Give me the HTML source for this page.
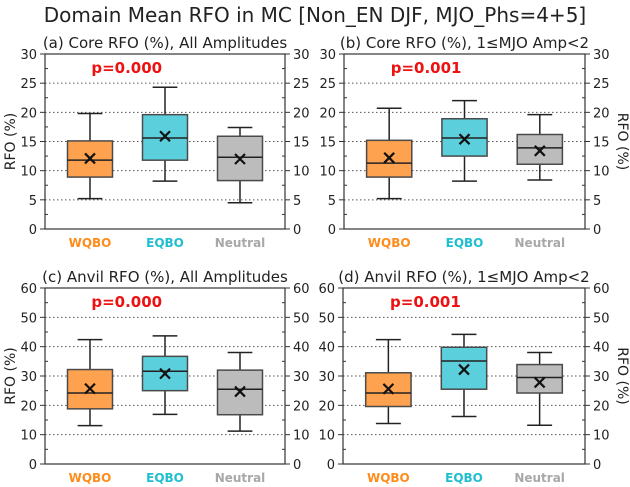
<!DOCTYPE html>
<html><head><meta charset="utf-8"><style>
html,body{margin:0;padding:0;background:#fff;}
svg{display:block;font-family:"DejaVu Sans","Liberation Sans",sans-serif;}
</style></head><body>
<svg id="fig" width="630" height="487" viewBox="0 0 630 487" xmlns="http://www.w3.org/2000/svg">
<text x="315" y="22" font-size="20" text-anchor="middle" fill="#222">Domain Mean RFO in MC [Non_EN DJF, MJO_Phs=4+5]</text>
</svg>
<script>
const categories = ["WQBO","EQBO","Neutral"];
const panelTitles = ["(a) Core RFO (%), All Amplitudes","(b) Core RFO (%), 1≤MJO Amp<2","(c) Anvil RFO (%), All Amplitudes","(d) Anvil RFO (%), 1≤MJO Amp<2"];
const pValues = ["p=0.000","p=0.001","p=0.000","p=0.001"];
const topTicks = [0,5,10,15,20,25,30];
const botTicks = [0,10,20,30,40,50,60];
// each: [whiskerLow, q1, median, q3, whiskerHigh, mean]
const panelA = [[5.2,8.9,11.8,15.1,19.8,12.1],[8.2,11.8,15.6,19.6,24.3,15.9],[4.5,8.3,12.3,15.9,17.4,12.0]];
const panelB = [[5.2,8.9,11.3,15.2,20.7,12.2],[8.2,12.5,15.6,18.9,22.0,15.4],[8.4,11.1,13.9,16.2,19.6,13.4]];
const panelC = [[13.1,18.8,24.2,32.2,42.4,25.7],[16.9,25.0,31.6,36.7,43.7,30.8],[11.2,16.8,25.5,32.0,38.0,24.7]];
const panelD = [[13.8,19.6,24.2,31.1,42.4,25.6],[16.2,25.5,35.1,39.8,44.2,32.2],[13.2,24.2,29.5,33.9,38.0,27.8]];

const NS="http://www.w3.org/2000/svg";
const svg=document.getElementById('fig');
const fills=["#ffa24f","#5bd0dc","#bcbcbc"];
const labCol=["#ff8c1a","#1fbfd0","#a8a8a8"];
function mk(tag,attrs,parent){const e=document.createElementNS(NS,tag);for(const k in attrs)e.setAttribute(k,attrs[k]);(parent||svg).appendChild(e);return e;}

const panels=[
 {d:panelA,ticks:topTicks,x0:45,x1:285,y0:54,y1:229,minor:2.5,rl:false},
 {d:panelB,ticks:topTicks,x0:344,x1:585,y0:54,y1:229,minor:2.5,rl:true},
 {d:panelC,ticks:botTicks,x0:45,x1:285,y0:288,y1:464,minor:5,rl:false},
 {d:panelD,ticks:botTicks,x0:343,x1:585,y0:288,y1:464,minor:5,rl:true}
];
panels.forEach((p,pi)=>{
 const g=mk('g',{});
 
 
 const ymax=p.ticks[p.ticks.length-1];
 const ys=v=>p.y1-(v/ymax)*(p.y1-p.y0);
 const xs=v=>p.x0+(v-0.4)/3.2*(p.x1-p.x0);
 const t=mk('text',{x:(p.x0+p.x1)/2,y:p.y0-6,'font-size':15,'text-anchor':'middle',fill:'#222'},g);
 t.textContent=panelTitles[pi];
 
 
 p.ticks.forEach(v=>{
  if(v>0&&v<ymax){const l=mk('line',{x1:p.x0,x2:p.x1,y1:ys(v),y2:ys(v),stroke:'#555','stroke-width':1,'stroke-dasharray':'1.5,2.5'},g);
   }
  [[p.x0,-5,'end',-8],[p.x1,5,'start',8]].forEach(([xx,dx,an,tx])=>{
   mk('line',{x1:xx,x2:xx+dx,y1:ys(v),y2:ys(v),stroke:'#333','stroke-width':1},g);
   const tl=mk('text',{x:xx+tx,y:ys(v)+5,'font-size':13,'text-anchor':an,fill:'#222'},g);
   tl.textContent=v;
   
   
  });
 });
 for(let v=p.minor;v<ymax;v+=p.minor){
  if(p.ticks.includes(v))continue;
  mk('line',{x1:p.x0,x2:p.x0+3,y1:ys(v),y2:ys(v),stroke:'#333'},g);
  mk('line',{x1:p.x1,x2:p.x1-3,y1:ys(v),y2:ys(v),stroke:'#333'},g);
 }
 const fr=mk('rect',{x:p.x0,y:p.y0,width:p.x1-p.x0,height:p.y1-p.y0,fill:'none',stroke:'#333','stroke-width':1.2},g);
 
 const pv=mk('text',{x:xs(1.49),y:p.y0+19,'font-size':15,'font-weight':'bold','text-anchor':'middle',fill:'#ee1111'},g);
 pv.textContent=pValues[pi];
 
 const yl=mk('text',{'font-size':14,'text-anchor':'middle',fill:'#222'},g);
 const cy=(p.y0+p.y1)/2;
 if(p.rl){yl.setAttribute('transform',`translate(${p.x1+33},${cy}) rotate(90)`);}else{yl.setAttribute('transform',`translate(${p.x0-30},${cy}) rotate(-90)`);}
 yl.textContent='RFO (%)';
 
 p.d.forEach((b,i)=>{
  const cx=xs(i+1),hw=(p.x1-p.x0)/3.2*0.3,cw=(p.x1-p.x0)/3.2*0.165;
  const bg=mk('g',{},g);
  
  
  mk('line',{x1:cx,x2:cx,y1:ys(b[0]),y2:ys(b[1]),stroke:'#222','stroke-width':1.5},bg);
  mk('line',{x1:cx,x2:cx,y1:ys(b[3]),y2:ys(b[4]),stroke:'#222','stroke-width':1.5},bg);
  mk('line',{x1:cx-cw,x2:cx+cw,y1:ys(b[0]),y2:ys(b[0]),stroke:'#222','stroke-width':1.5},bg);
  mk('line',{x1:cx-cw,x2:cx+cw,y1:ys(b[4]),y2:ys(b[4]),stroke:'#222','stroke-width':1.5},bg);
  mk('rect',{x:cx-hw,y:ys(b[3]),width:2*hw,height:ys(b[1])-ys(b[3]),fill:fills[i],stroke:'#4a4a4a','stroke-width':1.5},bg);
  mk('line',{x1:cx-hw,x2:cx+hw,y1:ys(b[2]),y2:ys(b[2]),stroke:'#222','stroke-width':1.5},bg);
  const my=ys(b[5]);
  mk('path',{d:`M${cx-5},${my-5}L${cx+5},${my+5}M${cx-5},${my+5}L${cx+5},${my-5}`,stroke:'#111','stroke-width':2.2},bg);
  const cl=mk('text',{x:cx,y:p.y1+18,'font-size':12,'font-weight':'bold','text-anchor':'middle',fill:labCol[i]},g);
  cl.textContent=categories[i];
  
  
 });
});
</script>
</body></html>
